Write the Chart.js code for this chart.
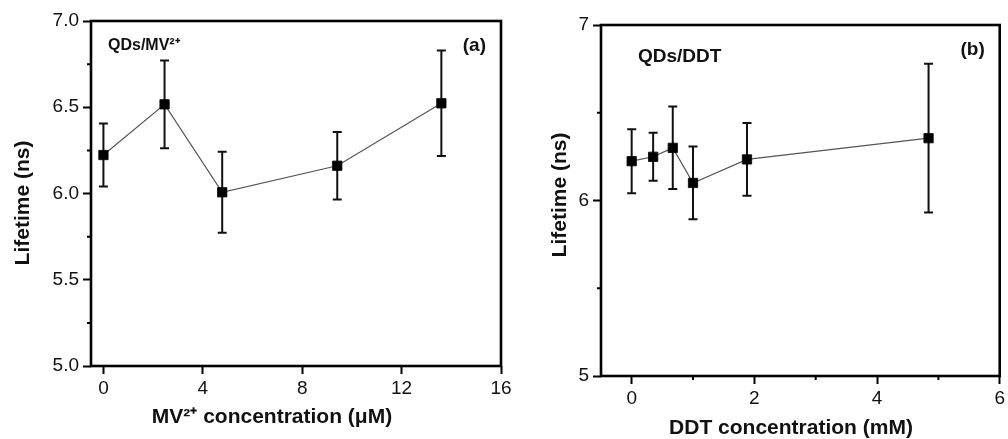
<!DOCTYPE html>
<html>
<head>
<meta charset="utf-8">
<script src="https://cdn.jsdelivr.net/npm/chart.js@4"></script>
<style>
  html, body { margin: 0; padding: 0; background: #fff; }
  #wrap { position: relative; width: 1008px; height: 439px; }
  canvas { position: absolute; left: 0; top: 0; }
</style>
</head>
<body>
<div id="wrap">
  <canvas id="chartA" width="1008" height="439"></canvas>
  <canvas id="chartB" width="1008" height="439"></canvas>
</div>
<script>
// panel (a): QDs / MV2+
const mvConc = [0, 2.46, 4.78, 9.41, 13.6];
const mvLifetime = [6.223, 6.517, 6.007, 6.161, 6.523];
const mvErr = [0.183, 0.254, 0.235, 0.196, 0.306];
const mvXTicks = [0, 4, 8, 12, 16];
const mvYTicks = [5.0, 5.5, 6.0, 6.5, 7.0];
const mvYMinor = [5.25, 5.75, 6.25, 6.75];

// panel (b): QDs / DDT
const ddtConc = [0, 0.35, 0.67, 1.0, 1.88, 4.84];
const ddtLifetime = [6.224, 6.249, 6.30, 6.10, 6.234, 6.355];
const ddtErr = [0.182, 0.137, 0.235, 0.207, 0.207, 0.424];
const ddtXTicks = [0, 2, 4, 6];
const ddtXMinor = [1, 3, 5];
const ddtYTicks = [5, 6, 7];
const ddtYMinor = [5.5, 6.5];

const FONT = '"Liberation Sans", Arial, sans-serif';

// error bars, frame, minor ticks and labels drawn with the chart's own scales
const extras = {
    id: 'extras',
    beforeDatasetsDraw(chart, args, opts) {
        const ctx = chart.ctx;
        const xs = chart.scales.x, ys = chart.scales.y;
        const data = chart.data.datasets[0].data;
        ctx.save();
        ctx.strokeStyle = '#111';
        ctx.lineWidth = 2;
        data.forEach((p, i) => {
            const e = opts.err[i];
            const px = xs.getPixelForValue(p.x);
            const top = ys.getPixelForValue(p.y + e);
            const bot = ys.getPixelForValue(p.y - e);
            ctx.beginPath();
            ctx.moveTo(px, top); ctx.lineTo(px, bot);
            ctx.moveTo(px - 4.5, top); ctx.lineTo(px + 4.5, top);
            ctx.moveTo(px - 4.5, bot); ctx.lineTo(px + 4.5, bot);
            ctx.stroke();
        });
        ctx.restore();
    },
    afterDraw(chart, args, opts) {
        const ctx = chart.ctx;
        const a = chart.chartArea;
        const xs = chart.scales.x, ys = chart.scales.y;
        ctx.save();
        ctx.strokeStyle = '#000';
        ctx.lineWidth = 2.6;
        ctx.strokeRect(a.left, a.top, a.right - a.left, a.bottom - a.top);
        ctx.lineWidth = 2;
        ctx.beginPath();
        (opts.yMinor || []).forEach(v => {
            const py = ys.getPixelForValue(v);
            ctx.moveTo(a.left, py); ctx.lineTo(a.left - 4, py);
        });
        (opts.xMinor || []).forEach(v => {
            const px = xs.getPixelForValue(v);
            ctx.moveTo(px, a.bottom); ctx.lineTo(px, a.bottom + 4);
        });
        ctx.stroke();

        ctx.fillStyle = '#111';
        ctx.textAlign = 'center';
        ctx.textBaseline = 'middle';
        ctx.font = 'bold 21px ' + FONT;
        ctx.fillText(opts.xTitle, opts.xTitlePos[0], opts.xTitlePos[1]);
        ctx.save();
        ctx.translate(opts.yTitlePos[0], opts.yTitlePos[1]);
        ctx.rotate(-Math.PI / 2);
        ctx.fillText(opts.yTitle, 0, 0);
        ctx.restore();

        ctx.textAlign = 'left';
        ctx.font = 'bold ' + opts.tagSize + 'px ' + FONT;
        ctx.fillText(opts.tag, opts.tagPos[0], opts.tagPos[1]);
        ctx.textAlign = 'right';
        ctx.font = 'bold 19px ' + FONT;
        ctx.fillText(opts.panel, a.right - 15, opts.panelY);
        ctx.restore();
    }
};

function makeChart(id, xVals, yVals, err, xr, yr, xTicks, yTicks, fmt, box, extra) {
    const pts = xVals.map((x, i) => ({ x: x, y: yVals[i] }));
    return new Chart(document.getElementById(id).getContext('2d'), {
        type: 'scatter',
        data: {
            datasets: [{
                data: pts,
                showLine: true,
                borderColor: '#555',
                borderWidth: 1.2,
                pointStyle: 'rect',
                pointRadius: 6.6,
                pointBorderWidth: 0.8,
                pointBackgroundColor: '#000',
                pointBorderColor: '#000'
            }]
        },
        options: {
            responsive: false,
            animation: false,
            events: [],
            layout: { padding: { left: box.left - box.yw, top: box.top, right: 1008 - box.right, bottom: 0 } },
            plugins: {
                legend: { display: false },
                tooltip: { enabled: false },
                extras: Object.assign({ err: err }, extra)
            },
            scales: {
                x: {
                    type: 'linear',
                    min: xr[0], max: xr[1],
                    afterBuildTicks: s => { s.ticks = xTicks.map(v => ({ value: v })); },
                    afterFit: s => { s.height = 439 - box.bottom; },
                    border: { display: false },
                    grid: { drawOnChartArea: false, drawTicks: true, tickLength: 8, tickWidth: 2, color: '#000' },
                    ticks: { color: '#111', padding: 3, font: { family: FONT, size: 19 }, maxRotation: 0 }
                },
                y: {
                    min: yr[0], max: yr[1],
                    afterBuildTicks: s => { s.ticks = yTicks.map(v => ({ value: v })); },
                    afterFit: s => { s.width = box.yw; },
                    border: { display: false },
                    grid: { drawOnChartArea: false, drawTicks: true, tickLength: 8, tickWidth: 2, color: '#000' },
                    ticks: { color: '#111', padding: 4, font: { family: FONT, size: 19 }, callback: fmt }
                }
            }
        },
        plugins: [extras]
    });
}

makeChart('chartA', mvConc, mvLifetime, mvErr, [-0.5, 16], [5, 7], mvXTicks, mvYTicks,
    v => v.toFixed(1),
    { left: 91, top: 21, right: 501, bottom: 366, yw: 91 },
    {
        yMinor: mvYMinor, xMinor: [],
        xTitle: 'MV\u00B2\u207A concentration (\u03BCM)', xTitlePos: [272, 417],
        yTitle: 'Lifetime (ns)', yTitlePos: [23, 203],
        tag: 'QDs/MV\u00B2\u207A', tagSize: 16, tagPos: [108, 46],
        panel: '(a)', panelY: 46
    });

makeChart('chartB', ddtConc, ddtLifetime, ddtErr, [-0.5, 6], [5, 7], ddtXTicks, ddtYTicks,
    v => String(v),
    { left: 601, top: 25, right: 1002, bottom: 376, yw: 60 },
    {
        yMinor: ddtYMinor, xMinor: ddtXMinor,
        xTitle: 'DDT concentration (mM)', xTitlePos: [791, 428],
        yTitle: 'Lifetime (ns)', yTitlePos: [560, 195],
        tag: 'QDs/DDT', tagSize: 19, tagPos: [638, 57],
        panel: '(b)', panelY: 50
    });
</script>
</body>
</html>
